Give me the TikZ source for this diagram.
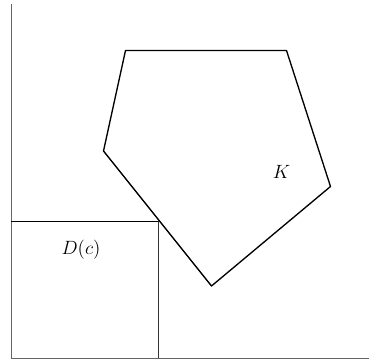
\documentclass[tikz,border=0pt]{standalone}
\usepackage{amsmath, amssymb}
\usetikzlibrary{positioning}

\begin{document}
\begin{tikzpicture}[x=0.75pt, y=0.75pt]
  \useasboundingbox (0,0) rectangle (369,361);
  % axes
  \coordinate (O) at (11.5,3);
  \coordinate (ytop) at (11.5,357);
  \coordinate (xend) at (369,3);
  \draw[gray!80!black, line width=0.7pt] (ytop) -- (O) -- (xend);
  % the square D(c)
  \coordinate (sq1) at (11.5,139.5);
  \coordinate (sq2) at (158.5,139.5);
  \coordinate (sq3) at (158.5,3);
  \draw[line width=1pt] (sq1) -- (sq2);
  \draw[gray!40!black, line width=0.8pt] (sq2) -- (sq3);
  \node[font=\fontsize{15.5}{18}\selectfont] (D) at (81,111) {$D(c)$};
  % the set K
  \coordinate (k1) at (125.5,310.5);
  \coordinate (k2) at (286.5,310.5);
  \coordinate (k3) at (330.5,174.5);
  \coordinate (k4) at (211.5,75);
  \coordinate (k5) at (103.5,210);
  \draw[line width=1pt, line join=round] (k1) -- (k2) -- (k3) -- (k4) -- (k5) -- cycle;
  \node[font=\fontsize{15.5}{18}\selectfont] (K) at (281.5,189.5) {$K$};
\end{tikzpicture}
\end{document}
